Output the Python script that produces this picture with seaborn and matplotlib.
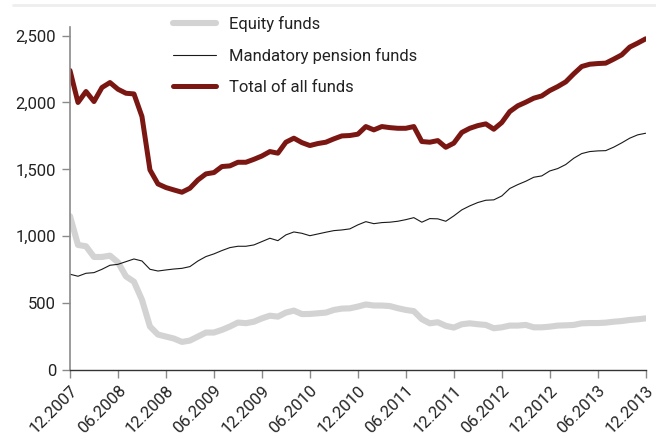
import matplotlib
matplotlib.use("Agg")
import matplotlib.pyplot as plt
from matplotlib.lines import Line2D
import seaborn as sns
import pandas as pd
import numpy as np

tick_labels = ["12.2007", "06.2008", "12.2008", "06.2009", "12.2009", "06.2010", "12.2010",
               "06.2011", "12.2011", "06.2012", "12.2012", "06.2013", "12.2013"]

equity = [1150, 935, 925, 845, 845, 855, 805, 700, 660, 525, 325, 265, 250, 235, 210, 220,
          250, 280, 280, 300, 325, 355, 350, 361, 386, 406, 399, 429, 444, 418, 419, 424,
          429, 449, 459, 461, 474, 490, 482, 482, 478, 462, 449, 440, 380, 349, 357, 330,
          317, 342, 349, 342, 337, 312, 319, 332, 332, 337, 319, 319, 324, 332, 334, 337,
          349, 351, 351, 354, 361, 366, 374, 379, 386]

mandatory = [716, 701, 723, 728, 753, 783, 790, 810, 830, 815, 753, 740, 748, 755, 760, 773,
             815, 848, 868, 893, 915, 925, 925, 935, 960, 985, 967, 1010, 1032, 1022, 1004, 1017,
             1030, 1042, 1047, 1055, 1085, 1109, 1094, 1102, 1105, 1112, 1124, 1139, 1105, 1132, 1130, 1112,
             1152, 1197, 1227, 1252, 1269, 1272, 1301, 1357, 1386, 1411, 1441, 1451, 1488, 1506,
             1536, 1583, 1618, 1633, 1638, 1640, 1666, 1698, 1733, 1758, 1770]

total = [2239, 2000, 2082, 2007, 2112, 2149, 2099, 2069, 2064, 1895, 1496, 1391, 1364, 1346, 1329, 1359,
         1421, 1466, 1476, 1521, 1526, 1553, 1553, 1575, 1600, 1633, 1621, 1703, 1733, 1700, 1678, 1693,
         1703, 1728, 1750, 1753, 1763, 1820, 1795, 1820, 1812, 1807, 1807, 1820, 1708, 1703, 1715, 1665,
         1696, 1776, 1807, 1827, 1840, 1800, 1850, 1932, 1975, 2002, 2032, 2049, 2089, 2119,
         2154, 2214, 2269, 2286, 2291, 2294, 2324, 2356, 2414, 2444, 2476]

series_names = ["Equity funds", "Mandatory pension funds", "Total of all funds"]
colors = {"Equity funds": "#d3d3d3", "Mandatory pension funds": "#1a1a1a",
          "Total of all funds": "#7b1713"}
widths = {"Equity funds": 4.4, "Mandatory pension funds": 0.8, "Total of all funds": 3.6}

months = np.arange(len(total))
df = pd.DataFrame({
    "month": np.concatenate([months] * 3),
    "value": equity + mandatory + total,
    "series": np.repeat(series_names, len(months)),
})

sns.set_theme(style="white")
plt.rcParams["font.family"] = ["Roboto", "DejaVu Sans"]

fig = plt.figure(figsize=(6.56, 4.41), dpi=100)
ax = fig.add_axes([0.1067, 0.161, 0.8776, 0.778])

for name in series_names:
    sub = df[df["series"] == name]
    sns.lineplot(data=sub, x="month", y="value", ax=ax, color=colors[name],
                 linewidth=widths[name], label=name)

ax.set_xlim(0, 72)
ax.set_ylim(0, 2565)
ax.set_yticks([0, 500, 1000, 1500, 2000, 2500])
ax.set_yticklabels(["0", "500", "1,000", "1,500", "2,000", "2,500"])
ax.set_xticks(np.arange(0, 73, 6))
ax.set_xticklabels(tick_labels, rotation=45, ha="right", rotation_mode="anchor")
ax.set_xlabel("")
ax.set_ylabel("")

for s in ["top", "right"]:
    ax.spines[s].set_visible(False)
ax.spines["left"].set_color("#8a8a8a")
ax.spines["left"].set_linewidth(1.2)
ax.spines["bottom"].set_color("#333333")
ax.spines["bottom"].set_linewidth(1.0)

ax.tick_params(axis="y", which="major", direction="out", length=6, width=1,
               color="#8a8a8a", labelsize=12, labelcolor="#222222", pad=4, left=True)
ax.tick_params(axis="x", which="major", direction="out", length=6, width=1,
               color="#8a8a8a", labelsize=12, labelcolor="#222222", pad=3, bottom=True)
ax.grid(False)

leg = ax.legend(loc="upper left", bbox_to_anchor=(0.167, 1.051), frameon=False,
                fontsize=12, handlelength=2.6, handletextpad=0.8, labelspacing=0.95,
                borderaxespad=0)
for t in leg.get_texts():
    t.set_color("#222222")

fig.add_artist(Line2D([0.02, 1.0], [0.988, 0.988], color="#eeeeee", lw=2,
                      transform=fig.transFigure))

fig.savefig("out.png", dpi=100)
